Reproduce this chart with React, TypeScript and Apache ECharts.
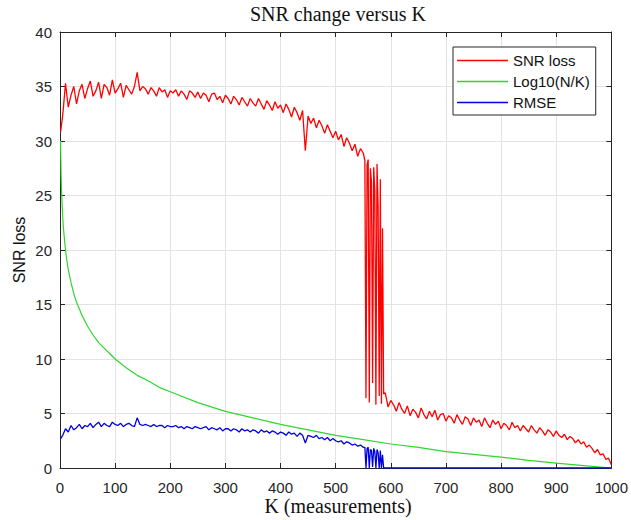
import React, { useEffect, useRef } from "react";
import * as echarts from "echarts";

// SNR loss at K = 1
const snrLossFirst = 30.8;
// SNR loss, K = 5 .. 550 every 5 measurements
const snrLossEarly = [
  32.4, 35.3, 33.1, 34.2, 35.0, 33.4, 34.6, 35.2, 33.9, 34.8,
  35.5, 34.1, 34.6, 35.4, 33.9, 35.2, 34.9, 34.2, 35.6, 34.4,
  34.8, 35.3, 34.0, 35.1, 34.7, 34.3, 35.0, 36.3, 34.6, 35.0,
  34.8, 34.3, 34.9, 34.6, 34.1, 34.9, 34.5, 34.7, 34.0, 34.6,
  34.4, 34.7, 34.1, 34.6, 34.3, 33.8, 34.6, 34.4, 34.0, 34.5,
  33.9, 34.4, 34.2, 33.6, 34.3, 34.4, 33.8, 34.1, 33.5, 34.2,
  33.9, 33.4, 34.1, 33.8, 33.3, 34.0, 33.6, 33.2, 33.9, 33.5,
  33.2, 33.9, 33.4, 32.9, 33.7, 33.3, 32.8, 33.6, 33.0, 33.3,
  32.6, 33.4, 32.9, 32.2, 33.1, 32.6, 31.9, 32.8, 29.1, 32.3,
  31.6, 32.1, 31.2, 31.9, 31.4, 30.7, 31.5, 30.9, 30.3, 30.9,
  30.1, 30.6, 29.5, 30.3, 29.8, 29.1, 29.7, 28.6, 29.3, 28.9,
];
// Break-down region, K = 553 .. 587 every 2 measurements
const dropK = [553, 555, 557, 559, 561, 563, 565, 567, 569, 571, 573, 575, 577, 579, 581, 583, 585, 587];
const snrLossDrop = [28.2, 6.4, 27.8, 28.3, 6.0, 27.5, 26.2, 7.8, 27.6, 25.4, 5.8, 27.9, 24.0, 6.6, 26.5, 5.9, 22.0, 6.8];
// SNR loss, K = 590 .. 1000 every 5 measurements
const snrLossLate = [
  6.9, 5.6, 6.2, 5.8, 5.2, 6.0, 5.4, 5.0, 5.7, 4.8,
  5.4, 5.1, 4.6, 5.5, 4.9, 4.5, 5.2, 4.7, 5.3, 4.4,
  4.9, 5.0, 4.3, 4.8, 4.6, 4.1, 4.9, 4.4, 4.0, 4.7,
  4.5, 3.9, 4.6, 4.2, 4.4, 3.8, 4.6, 4.1, 3.7, 4.4,
  4.0, 4.3, 3.6, 4.1, 3.9, 3.5, 4.2, 3.7, 3.9, 3.4,
  3.9, 3.6, 3.3, 3.9, 3.5, 3.2, 3.7, 3.4, 3.0, 3.5,
  3.3, 2.9, 3.4, 3.0, 2.8, 3.1, 2.6, 2.9, 2.7, 2.3,
  2.6, 2.2, 2.4, 1.9, 2.1, 1.8, 1.4, 1.7, 1.2, 1.3,
  0.8, 0.9, 0.3,
];

// RMSE at K = 1
const rmseFirst = 2.7;
// RMSE, K = 5 .. 550 every 5 measurements
const rmseEarly = [
  3.0, 3.6, 3.3, 3.9, 3.5, 3.7, 4.0, 3.6, 3.9, 3.8,
  4.1, 3.7, 4.0, 4.2, 3.8, 4.1, 3.9, 3.8, 4.2, 4.0,
  3.9, 4.1, 3.8, 4.0, 4.1, 3.9, 3.8, 4.6, 4.0, 3.9,
  4.0, 3.9, 3.8, 4.0, 3.8, 3.9, 3.9, 3.7, 3.9, 3.8,
  3.8, 3.9, 3.7, 3.8, 3.6, 3.8, 3.7, 3.6, 3.8, 3.7,
  3.6, 3.7, 3.8, 3.5, 3.7, 3.6, 3.5, 3.7, 3.4, 3.6,
  3.6, 3.4, 3.6, 3.5, 3.3, 3.6, 3.4, 3.5, 3.3, 3.5,
  3.4, 3.2, 3.5, 3.3, 3.4, 3.2, 3.4, 3.3, 3.1, 3.3,
  3.2, 3.0, 3.3, 3.1, 3.2, 2.9, 3.2, 3.0, 2.3, 3.0,
  2.9, 2.8, 3.0, 2.7, 2.8, 2.6, 2.8, 2.5, 2.7, 2.5,
  2.4, 2.5, 2.2, 2.4, 2.3, 2.1, 2.2, 2.0, 2.1, 1.9,
];
const rmseDrop = [1.9, 0.0, 1.8, 1.9, 0.0, 1.7, 1.6, 0.1, 1.8, 1.5, 0.0, 1.7, 1.4, 0.0, 1.6, 0.0, 1.2, 0.0];
// RMSE stays at zero once the recovery breaks down
const rmseLateK = [590, 1000];
const rmseLate = [0, 0];

// Log10(N/K) curve
const logK = [1, 2, 3, 4, 5, 6, 8, 10, 12, 15, 20, 25, 30, 40, 50, 60, 70, 80, 90, 100,
  120, 140, 160, 180, 200, 250, 300, 350, 400, 450, 500, 550, 600, 650, 700, 750, 800, 850, 900, 950, 1000];
const logRatio = [30, 27, 25.2, 24, 23, 22.2, 21, 20, 19.2, 18.2, 17, 16, 15.2, 14, 13, 12.2, 11.5, 11, 10.5, 10,
  9.2, 8.5, 8, 7.4, 7, 6, 5.2, 4.6, 4, 3.5, 3, 2.6, 2.2, 1.9, 1.5, 1.25, 1.0, 0.7, 0.45, 0.22, 0];

const legendNames = ["SNR loss", "Log10(N/K)", "RMSE"];
const xTicks = { min: 0, max: 1000, interval: 100 };
const yTicks = { min: 0, max: 40, interval: 5 };

const SAMPLE_STEP = 5;
const LATE_START = 590;

function pairs(ks: number[], vs: number[]) {
  return vs.map((v, i) => [ks[i], v]);
}
function stepped(start: number, vs: number[]) {
  return vs.map((v, i) => [start + i * SAMPLE_STEP, v]);
}

const SANS = "'Liberation Sans', Arial, sans-serif";
const SERIF = "'Liberation Serif', 'Times New Roman', serif";
const AXIS = "#262626";
const COLORS = ["#ff0000", "#2fd62f", "#0000dd"];

export default function App() {
  const ref = useRef<HTMLDivElement>(null);

  useEffect(() => {
    document.body.style.margin = "0";
    if (!ref.current) return;
    const chart = echarts.init(ref.current, undefined, { renderer: "svg" });

    const snrData = [
      [1, snrLossFirst],
      ...stepped(SAMPLE_STEP, snrLossEarly),
      ...pairs(dropK, snrLossDrop),
      ...stepped(LATE_START, snrLossLate),
    ];
    const rmseData = [
      [1, rmseFirst],
      ...stepped(SAMPLE_STEP, rmseEarly),
      ...pairs(dropK, rmseDrop),
      ...pairs(rmseLateK, rmseLate),
    ];
    const logData = pairs(logK, logRatio);

    const baseX = {
      type: "value" as const,
      ...xTicks,
      axisLine: { show: true, onZero: false, lineStyle: { color: AXIS, width: 1 } },
      axisTick: { show: true, inside: true, length: 5, lineStyle: { color: AXIS } },
    };
    const baseY = {
      type: "value" as const,
      ...yTicks,
      axisLine: { show: true, onZero: false, lineStyle: { color: AXIS, width: 1 } },
      axisTick: { show: true, inside: true, length: 5, lineStyle: { color: AXIS } },
    };
    const plain = (v: number) => String(v);

    chart.setOption({
      animation: false,
      backgroundColor: "#ffffff",
      grid: { left: 60, right: 15, top: 32, bottom: 52, containLabel: false },
      xAxis: [
        {
          ...baseX,
          position: "bottom",
          axisLabel: { show: true, margin: 12, fontFamily: SANS, fontSize: 15, color: AXIS, formatter: plain },
          splitLine: { show: true, lineStyle: { color: "#e3e3e3", width: 1 } },
        },
        {
          ...baseX,
          position: "top",
          axisLabel: { show: false },
          splitLine: { show: false },
        },
      ],
      yAxis: [
        {
          ...baseY,
          position: "left",
          axisLabel: { show: true, margin: 8, fontFamily: SANS, fontSize: 15, color: AXIS, formatter: plain },
          splitLine: { show: true, lineStyle: { color: "#e3e3e3", width: 1 } },
        },
        {
          ...baseY,
          position: "right",
          axisLabel: { show: false },
          splitLine: { show: false },
        },
      ],
      legend: {
        orient: "vertical",
        left: 453,
        top: 47,
        padding: [6, 6, 5, 4],
        itemWidth: 51,
        itemHeight: 1.5,
        itemGap: 6,
        icon: "rect",
        backgroundColor: "#ffffff",
        borderColor: AXIS,
        borderWidth: 1,
        textStyle: { fontFamily: SANS, fontSize: 15, color: "#111111" },
        data: legendNames,
      },
      series: [
        {
          name: legendNames[0],
          type: "line",
          data: snrData,
          symbol: "none",
          lineStyle: { color: COLORS[0], width: 1.3 },
          itemStyle: { color: COLORS[0] },
          z: 2,
        },
        {
          name: legendNames[1],
          type: "line",
          data: logData,
          symbol: "none",
          lineStyle: { color: COLORS[1], width: 1.2 },
          itemStyle: { color: COLORS[1] },
          z: 3,
        },
        {
          name: legendNames[2],
          type: "line",
          data: rmseData,
          symbol: "none",
          lineStyle: { color: COLORS[2], width: 1.3 },
          itemStyle: { color: COLORS[2] },
          z: 4,
        },
      ],
      graphic: [
        {
          type: "text",
          x: 338,
          y: 14,
          style: {
            text: "SNR change versus K",
            font: `20px ${SERIF}`,
            fill: "#111111",
            textAlign: "center",
            textVerticalAlign: "middle",
          },
        },
        {
          type: "text",
          x: 338,
          y: 506,
          style: {
            text: "K (measurements)",
            font: `20px ${SERIF}`,
            fill: "#111111",
            textAlign: "center",
            textVerticalAlign: "middle",
          },
        },
        {
          type: "text",
          x: 19,
          y: 250,
          rotation: Math.PI / 2,
          style: {
            text: "SNR loss",
            font: `16px ${SANS}`,
            fill: "#111111",
            textAlign: "center",
            textVerticalAlign: "middle",
          },
        },
      ],
    });

    return () => chart.dispose();
  }, []);

  return <div ref={ref} style={{ width: 631, height: 520 }} />;
}
